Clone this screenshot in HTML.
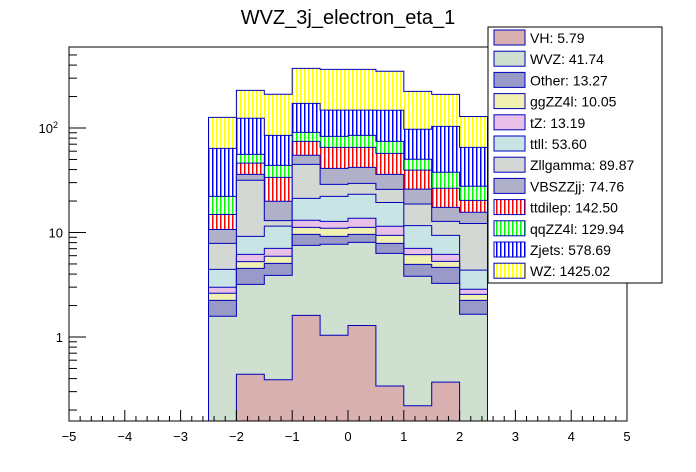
<!DOCTYPE html>
<html><head><meta charset="utf-8">
<style>
html,body{margin:0;padding:0;background:#fff;}
svg{display:block;font-family:"Liberation Sans",Arial,sans-serif;}
</style></head>
<body>
<svg id="c" width="696" height="472" viewBox="0 0 696 472" xmlns="http://www.w3.org/2000/svg">
<defs>
<pattern id="p-red-v" width="4" height="4" patternUnits="userSpaceOnUse"><rect width="4" height="4" fill="#fff"/><rect width="1.5" height="4" fill="#ff0000"/></pattern>
<pattern id="p-green-v" width="4" height="4" patternUnits="userSpaceOnUse"><rect width="4" height="4" fill="#fff"/><rect width="1.5" height="4" fill="#00ff00"/></pattern>
<pattern id="p-blue-v" width="4" height="4" patternUnits="userSpaceOnUse"><rect width="4" height="4" fill="#fff"/><rect width="1.5" height="4" fill="#0000ff"/></pattern>
<pattern id="p-yellow-v" width="4" height="4" patternUnits="userSpaceOnUse"><rect width="4" height="4" fill="#fff"/><rect width="1.5" height="4" fill="#ffff00"/></pattern>
<clipPath id="plotclip"><rect x="69" y="47" width="558" height="374"/></clipPath>
</defs>
<rect width="696" height="472" fill="#fff"/>
<text x="348" y="24" font-size="20" text-anchor="middle">WVZ_3j_electron_eta_1</text>
<g id="bars" clip-path="url(#plotclip)"></g>
<rect x="69" y="47" width="558" height="374" fill="none" stroke="#000" stroke-width="1"/>
<g id="axes"></g>
<g id="legend"></g>
</svg>
<script>
const binEdges = [-2.5,-2,-1.5,-1,-0.5,0,0.5,1,1.5,2,2.5];
const seriesNames = ["VH","WVZ","Other","ggZZ4l","tZ","ttll","Zllgamma","VBSZZjj","ttdilep","qqZZ4l","Zjets","WZ"];
const legendTotals = ["5.79","41.74","13.27","10.05","13.19","53.60","89.87","74.76","142.50","129.94","578.69","1425.02"];
const vhVals      = [0,0.44,0.39,1.61,1.04,1.29,0.34,0.22,0.37,0];
const wvzVals     = [1.58,2.75,3.5,5.93,6.67,6.76,5.98,3.59,2.89,1.65];
const otherVals   = [0.66,1.35,1.18,2.06,1.48,1.55,1.56,1.15,1.38,0.59];
const ggzzVals    = [0.38,0.72,0.85,1.6,1.8,1.6,1.5,1.18,0.66,0.32];
const tzVals      = [0.37,0.92,1.13,1.9,1.8,2.5,2.1,0.9,0.88,0.3];
const ttllVals    = [1.45,3.0,4.45,8.1,9.4,9.5,7.9,4.6,3.2,1.5];
const zllgVals    = [3.44,22.4,1.5,23.7,6.7,6.3,6.5,7.1,3.4,7.85];
const vbsVals     = [2.8,4.4,6.9,9.9,12.2,12.5,10.1,7.3,4.6,3.4];
const ttdilepVals = [4.2,10.1,13.8,19.7,24.2,23.3,21.2,13.5,9.1,4.7];
const qqzzVals    = [7.3,9.9,10.2,16.4,17.9,19.8,17.3,10.7,11.2,7.4];
const zjetsVals   = [41.7,68,41.2,81,65,63,73.5,47,66,37.6];
const wzVals      = [62.6,105,125,200,216,216,201,127,106,63.7];
const seriesVals = [vhVals,wvzVals,otherVals,ggzzVals,tzVals,ttllVals,zllgVals,vbsVals,ttdilepVals,qqzzVals,zjetsVals,wzVals];
const fills = ["#d8b0b0","#d0e0d0","#9a9ac8","#f0f0b0","#e8c0e8","#c8e4e4","#d4d8d4","#b0b0c8","url(#p-red-v)","url(#p-green-v)","url(#p-blue-v)","url(#p-yellow-v)"];
const xTicks = [-5,-4,-3,-2,-1,0,1,2,3,4,5];
const yTickVals = [1,10,100];

const NS="http://www.w3.org/2000/svg";
const X0=69,X1=627,Y0=421,Y1=47;
function xs(v){return X0+(v+5)/10*(X1-X0);}
function ys(v){if(v<=0) return Y0+5; return 337-104.5*Math.log10(v);}
function mk(tag,attrs,parent){const e=document.createElementNS(NS,tag);for(const k in attrs)e.setAttribute(k,attrs[k]);parent.appendChild(e);return e;}

const nb=binEdges.length-1;
const cum=[];let run=new Array(nb).fill(0);
for(let s=0;s<seriesVals.length;s++){run=run.map((r,i)=>r+seriesVals[s][i]);cum.push(run.slice());}
const bars=document.getElementById('bars');
for(let s=seriesVals.length-1;s>=0;s--){
  let d="M"+xs(binEdges[0])+","+(Y0+5);
  for(let i=0;i<nb;i++){const y=ys(cum[s][i]);d+=" L"+xs(binEdges[i])+","+y+" L"+xs(binEdges[i+1])+","+y;}
  d+=" L"+xs(binEdges[nb])+","+(Y0+5)+" Z";
  const p=mk('path',{d:d,fill:fills[s],stroke:"#0000bb","stroke-width":"1"},bars);
  
  
}

const ax=document.getElementById('axes');
for(let v=-5;v<=5.0001;v+=0.2){
  const r=Math.round(v*10)/10;const major=Math.abs(r-Math.round(r))<1e-6;
  const l=mk('line',{x1:xs(r),x2:xs(r),y1:Y0,y2:Y0-(major?11:5),stroke:"#000","stroke-width":"1"},ax);
  
  
}
xTicks.forEach(t=>{
  const tx=mk('text',{x:xs(t),y:441,"font-size":"13","text-anchor":"middle"},ax);
  tx.textContent=(t<0?"\u2212"+(-t):String(t));
  
  
});
for(let dec=-1;dec<=2;dec++){
  for(let m=1;m<=9;m++){
    const v=m*Math.pow(10,dec);const y=ys(v);
    if(y<Y1||y>Y0) continue;
    const l=mk('line',{x1:X0,x2:X0+(m===1?17:8),y1:y,y2:y,stroke:"#000","stroke-width":"1"},ax);
    
    
  }
}
yTickVals.forEach(v=>{
  const y=ys(v);
  const t=mk('text',{x:(v===100?58:63),y:y+5,"font-size":"13","text-anchor":"end"},ax);
  if(v===100){t.textContent="10";const s=mk('tspan',{dy:"-5","font-size":"9"},t);s.textContent="2";}
  else t.textContent=String(v);
  
  
});

const lg=document.getElementById('legend');
const lb=mk('rect',{x:488,y:27,width:174,height:256,fill:"#fff",stroke:"#000","stroke-width":"1"},lg);


for(let s=0;s<seriesNames.length;s++){
  const y=30+s*21.2;
  const g=mk('g',{},lg);
  
  
  mk('rect',{x:494,y:y,width:31,height:15,fill:fills[s],stroke:"#0000bb","stroke-width":"1"},g);
  const t=mk('text',{x:530,y:y+13,"font-size":"14"},g);
  t.textContent=seriesNames[s]+": "+legendTotals[s];
}
</script>
</body></html>
